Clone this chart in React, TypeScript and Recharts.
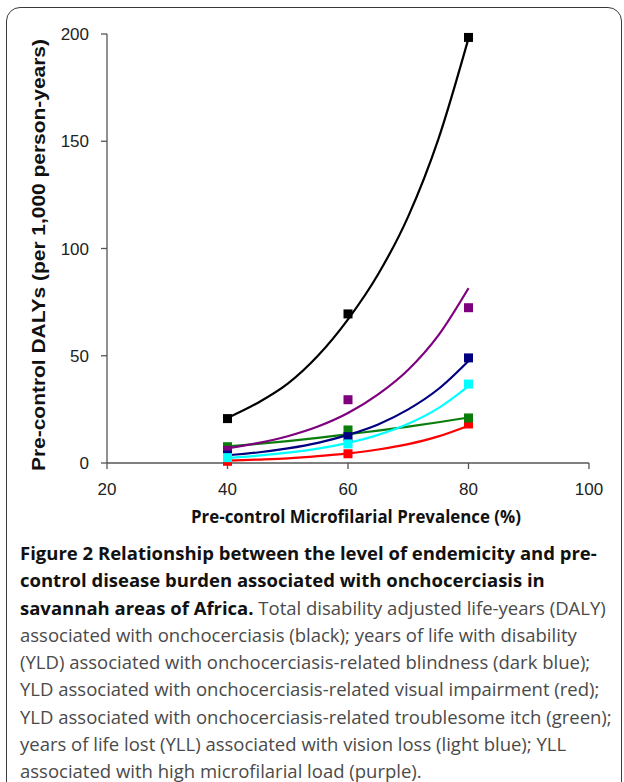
import { ComposedChart, Line, Scatter, XAxis, YAxis } from "recharts";

// axis ticks
const xTicks = [20, 40, 60, 80, 100];
const yTicks = [0, 50, 100, 150, 200];

// observed points (pre-control mf prevalence %)
const prevalence = [40, 60, 80];
const dalyTotal = [20.7, 69.5, 198.4];
const yldBlindness = [3.7, 12.3, 49];
const yldVisual = [0.8, 4.3, 18.2];
const yldItch = [7.6, 15.4, 21];
const yllVision = [2.5, 8.9, 36.8];
const yllMfLoad = [5.9, 29.5, 72.4];

// exponential trend curves, every 5 %
const trendX = [40, 45, 50, 55, 60, 65, 70, 75, 80];
const dalyTrend = [21, 28, 37, 50, 67, 88, 115, 151, 198];
const blindTrend = [3.6, 4.9, 6.8, 9.4, 13.1, 18, 25, 34.5, 47.6];
const visualTrend = [1.1, 1.6, 2.2, 3.2, 4.5, 6.3, 8.8, 12.4, 17.4];
const itchTrend = [7.8, 8.9, 10.2, 11.7, 13.4, 15.1, 17, 19, 21.2];
const visionTrend = [2.4, 3.4, 4.8, 6.7, 9.4, 13.1, 18.3, 25.6, 35.9];
const mfTrend = [6.8, 9.3, 12.5, 17, 23.3, 32, 43.5, 59.5, 81.5];

const captionBold = [
  "Figure 2 Relationship between the level of endemicity and pre-",
  "control disease burden associated with onchocerciasis in",
  "savannah areas of Africa.",
];
const captionText = [
  " Total disability adjusted life-years (DALY)",
  "associated with onchocerciasis (black); years of life with disability",
  "(YLD) associated with onchocerciasis-related blindness (dark blue);",
  "YLD associated with onchocerciasis-related visual impairment (red);",
  "YLD associated with onchocerciasis-related troublesome itch (green);",
  "years of life lost (YLL) associated with vision loss (light blue); YLL",
  "associated with high microfilarial load (purple).",
];

const trendRows = trendX.map((x, i) => ({
  x,
  daly: dalyTrend[i],
  blind: blindTrend[i],
  visual: visualTrend[i],
  itch: itchTrend[i],
  vision: visionTrend[i],
  mf: mfTrend[i],
}));

const pts = (vals: number[]) => prevalence.map((x, i) => ({ x, y: vals[i] }));

// draw order of markers matters (green sits over red etc.)
const markerSeries = [
  { name: "visual", vals: yldVisual, color: "#ff0000" },
  { name: "itch", vals: yldItch, color: "#0a7d0a" },
  { name: "mf", vals: yllMfLoad, color: "#7f007f" },
  { name: "blind", vals: yldBlindness, color: "#000080" },
  { name: "vision", vals: yllVision, color: "#00ffff" },
  { name: "daly", vals: dalyTotal, color: "#000000" },
];

const trendSeries = [
  { key: "visual", color: "#ff0000" },
  { key: "itch", color: "#0a7d0a" },
  { key: "vision", color: "#00ffff" },
  { key: "blind", color: "#000080" },
  { key: "mf", color: "#7f007f" },
  { key: "daly", color: "#000000" },
];

const square = (color: string) => (p: any) =>
  <rect x={p.cx - 4.5} y={p.cy - 4.5} width={9} height={9} fill={color} />;

const axisFont = "'Liberation Sans', Arial, sans-serif";
const captionFont = "'Open Sans', Lato, sans-serif";

export default function App() {
  return (
    <div style={{ position: "fixed", left: 0, top: 0, width: 624, height: 782, background: "#fff", overflow: "hidden" }}>
      <div style={{ position: "absolute", left: 6, top: 7, width: 614, height: 830, border: "1.5px solid #3a3a3a", borderRadius: 14 }} />
      <div style={{ position: "absolute", left: 0, top: 0 }}>
        <ComposedChart width={624} height={540} data={trendRows} margin={{ top: 34, right: 35, left: 0, bottom: 30 }}>
          <XAxis
            type="number"
            dataKey="x"
            domain={[20, 100]}
            ticks={xTicks}
            height={47}
            tickSize={6}
            tickMargin={14}
            axisLine={{ stroke: "#555", strokeWidth: 1.3 }}
            tickLine={{ stroke: "#555", strokeWidth: 1.3 }}
            tick={{ fill: "#222", fontSize: 17, fontFamily: axisFont }}
          />
          <YAxis
            type="number"
            domain={[0, 200]}
            ticks={yTicks}
            width={107}
            tickSize={6}
            tickMargin={12}
            axisLine={{ stroke: "#555", strokeWidth: 1.3 }}
            tickLine={{ stroke: "#555", strokeWidth: 1.3 }}
            tick={{ fill: "#222", fontSize: 17, fontFamily: axisFont }}
          />
          {trendSeries.map(s => (
            <Line key={s.key} type="monotone" dataKey={s.key} stroke={s.color} strokeWidth={2.2} dot={false} activeDot={false} isAnimationActive={false} />
          ))}
          {markerSeries.map(s => (
            <Scatter key={s.name} data={pts(s.vals)} dataKey="y" fill={s.color} shape={square(s.color)} isAnimationActive={false} />
          ))}
        </ComposedChart>
      </div>
      <svg width={624} height={540} style={{ position: "absolute", left: 0, top: 0, pointerEvents: "none" }}>
        <text
          x={39} y={255} transform="rotate(-90 39 255)" textAnchor="middle" dominantBaseline="central"
          fontFamily={axisFont} fontWeight="bold" fontSize={18} fill="#111" textLength={432} lengthAdjust="spacingAndGlyphs"
        >
          Pre-control DALYs (per 1,000 person-years)
        </text>
        <text
          x={356} y={516} textAnchor="middle" dominantBaseline="central"
          fontFamily={captionFont} fontWeight="bold" fontSize={17} fill="#111" textLength={330} lengthAdjust="spacingAndGlyphs"
        >
          Pre-control Microfilarial Prevalence (%)
        </text>
      </svg>
      <div style={{ position: "absolute", left: 20, top: 539, width: 604, fontFamily: captionFont, fontSize: 18.5, lineHeight: "27.3px", whiteSpace: "nowrap", color: "#4a4a4a" }}>
        <div style={{ fontWeight: "bold", color: "#111" }}>{captionBold[0]}</div>
        <div style={{ fontWeight: "bold", color: "#111" }}>{captionBold[1]}</div>
        <div>
          <span style={{ fontWeight: "bold", color: "#111" }}>{captionBold[2]}</span>
          {captionText[0]}
        </div>
        {captionText.slice(1).map((t, i) => <div key={i}>{t}</div>)}
      </div>
    </div>
  );
}
